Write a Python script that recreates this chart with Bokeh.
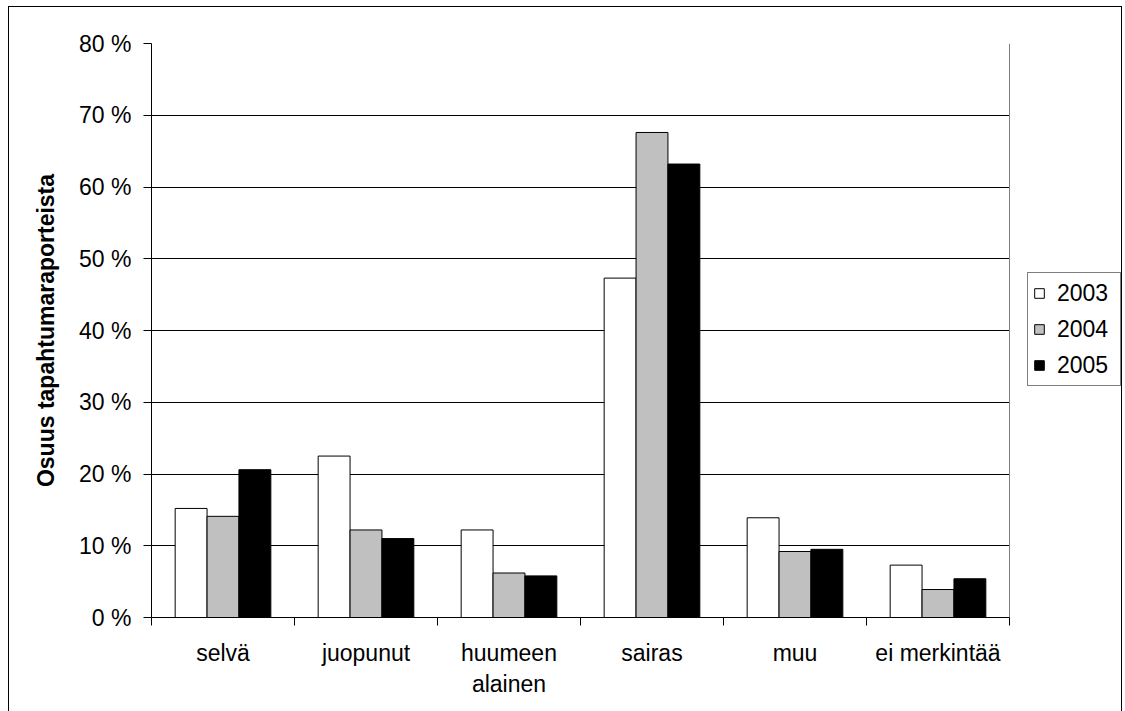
import numpy as np
from bokeh.plotting import figure
from bokeh.models import (ColumnDataSource, FixedTicker, Legend, LegendItem,
                          PrintfTickFormatter, Grid)
from bokeh.transform import dodge
from bokeh.embed import file_html
from bokeh.resources import INLINE

# Shares of accident reports by condition, percent
categories = ["selvä", "juopunut", "huumeen\nalainen", "sairas", "muu", "ei merkintää"]
years = ["2003", "2004", "2005"]
share_2003 = [15.2, 22.5, 12.2, 47.3, 13.9, 7.3]
share_2004 = [14.1, 12.2, 6.2, 67.6, 9.2, 3.9]
share_2005 = [20.6, 11.0, 5.8, 63.2, 9.5, 5.4]
y_ticks = [0, 10, 20, 30, 40, 50, 60, 70, 80]

FONT = "Liberation Sans"
fills = ["#ffffff", "#c0c0c0", "#000000"]
bar_w = 0.223
n = len(categories)

# the drawing area runs on past the last category to leave room for the legend
PLOT_PX, FRAME_PX = 858, 972
x_end = n * FRAME_PX / PLOT_PX

centers = np.arange(n) + 0.5
source = ColumnDataSource(dict(x=centers, y2003=share_2003, y2004=share_2004, y2005=share_2005))

p = figure(width=1114, height=705, x_range=(0, x_end), y_range=(0, y_ticks[-1]),
           output_backend="svg", toolbar_location=None,
           min_border_left=142, min_border_top=36, min_border_bottom=95, min_border_right=0)
p.margin = (6, 3, 0, 8)
p.styles = {"border-left": "1px solid #000", "border-top": "1px solid #000",
            "border-right": "1px solid #000"}

items = []
for i, (yr, col) in enumerate(zip(years, ["y2003", "y2004", "y2005"])):
    r = p.vbar(x=dodge("x", (i - 1) * bar_w), top=col, width=bar_w, source=source,
               fill_color=fills[i], line_color="#000000", line_width=1)
    items.append(LegendItem(label=yr, renderers=[r]))

# frame and grid, limited to the category area
p.background_fill_color = "#ffffff"
p.border_fill_color = "#ffffff"
p.outline_line_color = None
p.xgrid.grid_line_color = None
ygrid = p.ygrid[0]
ygrid.grid_line_color = "#000000"
ygrid.grid_line_width = 1
ygrid.ticker = FixedTicker(ticks=y_ticks[:-1])
ygrid.cross_bounds = (0, n)
top_edge = Grid(dimension=1, ticker=FixedTicker(ticks=[y_ticks[-1]]), cross_bounds=(0, n),
                grid_line_color="#808080", grid_line_width=1)
right_edge = Grid(dimension=0, ticker=FixedTicker(ticks=[n]), cross_bounds=(0, y_ticks[-1]),
                  grid_line_color="#808080", grid_line_width=1)
p.add_layout(top_edge)
p.add_layout(right_edge)

# y axis
ya = p.yaxis[0]
ya.ticker = FixedTicker(ticks=y_ticks)
ya.formatter = PrintfTickFormatter(format="%d %%")
ya.axis_line_color = "#000000"
ya.major_tick_in = 0
ya.major_tick_out = 8
ya.minor_tick_line_color = None
ya.major_label_standoff = 12
ya.major_label_text_font = FONT
ya.major_label_text_font_size = "23px"
ya.major_label_text_color = "#000000"
ya.axis_label = "Osuus tapahtumaraporteista"
ya.axis_label_text_font = FONT
ya.axis_label_text_font_style = "bold"
ya.axis_label_text_font_size = "23px"
ya.axis_label_text_color = "#000000"
ya.axis_label_standoff = 17

# x axis: labels at category centres, tick marks at category boundaries
xa = p.xaxis[0]
xa.bounds = (0, n)
xa.ticker = FixedTicker(ticks=list(centers), minor_ticks=list(range(n + 1)))
xa.major_label_overrides = {float(c): lab for c, lab in zip(centers, categories)}
xa.axis_line_color = "#000000"
xa.major_tick_line_color = None
xa.major_tick_in = 0
xa.major_tick_out = 8
xa.minor_tick_in = 0
xa.minor_tick_out = 8
xa.minor_tick_line_color = "#000000"
xa.major_label_standoff = 14
xa.major_label_text_font = FONT
xa.major_label_text_font_size = "23px"
xa.major_label_text_color = "#000000"
xa.major_label_text_align = "center"

legend = Legend(items=items, location=(876, 231))
legend.border_line_color = "#000000"
legend.border_line_width = 1
legend.background_fill_color = "#ffffff"
legend.background_fill_alpha = 1
legend.label_text_font = FONT
legend.label_text_font_size = "23px"
legend.label_text_color = "#000000"
legend.glyph_width = 12
legend.glyph_height = 12
legend.label_height = 30
legend.label_width = 58
legend.spacing = 6
legend.padding = 5
legend.label_standoff = 12
legend.margin = 0
p.add_layout(legend, "center")

open("out.html", "w").write(file_html(p, INLINE))
